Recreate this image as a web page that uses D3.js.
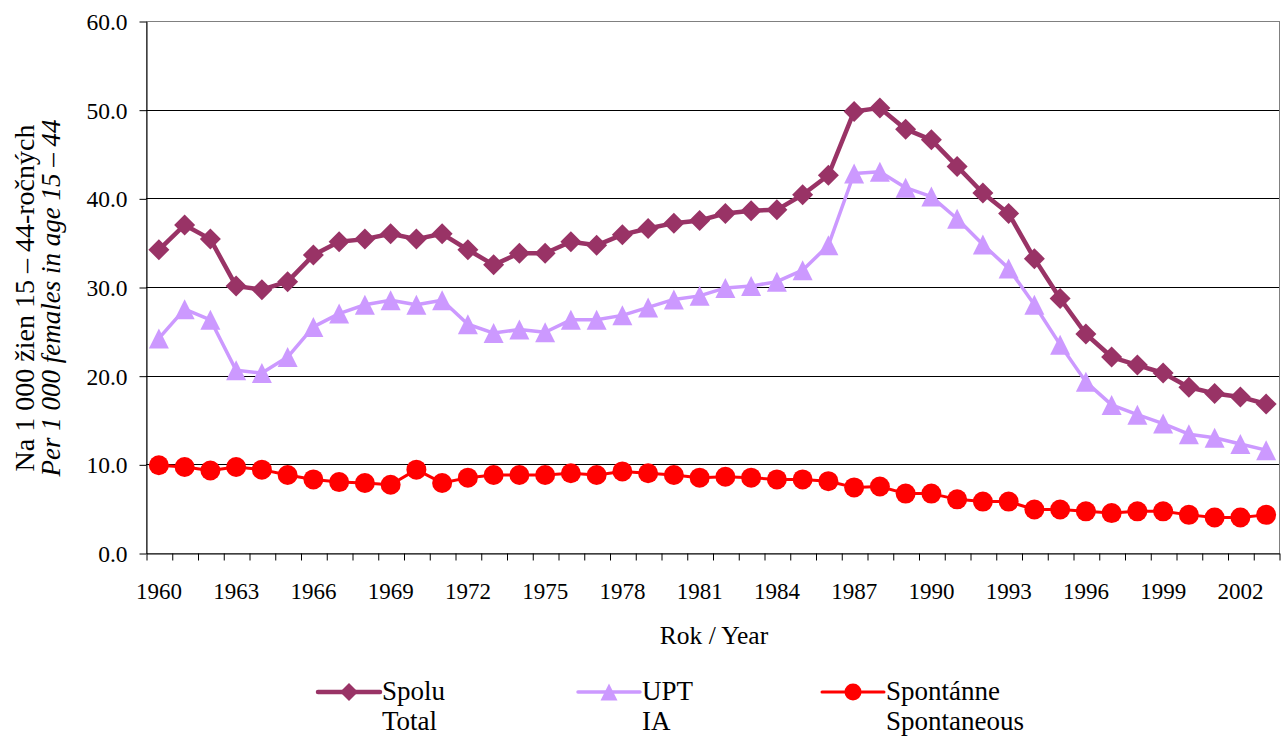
<!DOCTYPE html>
<html>
<head>
<meta charset="utf-8">
<script src="https://cdn.jsdelivr.net/npm/d3@7"></script>
<style>
  body { margin: 0; background: #fff; }
  svg text { font-family: "Liberation Serif", "Times New Roman", Times, "Nimbus Roman", "DejaVu Serif", serif; fill: #000; }
</style>
</head>
<body>
<svg id="chart" width="1281" height="738"></svg>
<script>
//
// Data
//

var years = d3.range(1960, 2004)
var total = [34.2, 37.0, 35.4, 30.1, 29.7, 30.6, 33.6, 35.1, 35.4, 36.0,
  35.4, 36.0, 34.2, 32.5, 33.8, 33.8, 35.1, 34.7, 35.9, 36.6,
  37.2, 37.5, 38.3, 38.6, 38.7, 40.4, 42.6, 49.8, 50.2, 47.8,
  46.6, 43.6, 40.6, 38.3, 33.2, 28.7, 24.7, 22.1, 21.2, 20.3,
  18.7, 18.0, 17.6, 16.8]
var ia = [24.2, 27.5, 26.3, 20.6, 20.3, 22.1, 25.5, 27.0, 28.0, 28.5,
  28.0, 28.5, 25.8, 24.8, 25.2, 24.9, 26.3, 26.3, 26.8, 27.7,
  28.6, 29.0, 29.9, 30.1, 30.6, 31.9, 34.7, 42.8, 43.0, 41.2,
  40.2, 37.7, 34.8, 32.1, 28.0, 23.5, 19.3, 16.7, 15.6, 14.6,
  13.4, 13.0, 12.3, 11.6]
var spont = [9.9, 9.7, 9.3, 9.7, 9.4, 8.8, 8.3, 8.0, 7.9, 7.7,
  9.4, 7.9, 8.5, 8.8, 8.8, 8.8, 9.0, 8.8, 9.2, 9.0,
  8.8, 8.5, 8.6, 8.5, 8.3, 8.3, 8.1, 7.4, 7.5, 6.7,
  6.7, 6.05, 5.8, 5.8, 4.9, 4.9, 4.7, 4.5, 4.7, 4.7,
  4.3, 4.0, 4.0, 4.3]
var yTicks = [0, 10, 20, 30, 40, 50, 60]
var xLabelYears = years.filter(function(y) { return (y - 1960) % 3 === 0 })
var seriesNames = [['Spolu', 'Total'], ['UPT', 'IA'], ['Spontánne', 'Spontaneous']]

//
// Configuration
//

var plotLeft = 146, plotRight = 1279, plotTop = 21, plotBottom = 553
var colorTotal = '#993366'
var colorIA = '#cc99ff'
var colorSpont = '#ff0000'

//
// Scales
//

var svg = d3.select('#chart')
var x = d3.scaleBand().domain(years).range([plotLeft, plotRight]).paddingInner(0).paddingOuter(0)
var xEdge = d3.scaleLinear().domain([0, years.length]).range([plotLeft, plotRight])
var y = d3.scaleLinear().domain([0, 60]).range([plotBottom, plotTop])
function cx(yr) { return x(yr) + x.bandwidth() / 2 }

//
// Markers (centered on the bounding box, like the spreadsheet ones)
//

function diamond(r) {
  return 'M0,' + (-r) + 'L' + r + ',0L0,' + r + 'L' + (-r) + ',0Z'
}
function triangle(r) {
  return 'M0,' + (-r) + 'L' + r + ',' + r + 'L' + (-r) + ',' + r + 'Z'
}

//
// Grid and frame
//

svg.append('rect')
  .attr('x', plotLeft + 0.5).attr('y', plotTop + 0.5)
  .attr('width', plotRight - plotLeft).attr('height', plotBottom - plotTop)
  .attr('fill', 'none').attr('stroke', '#808080')

svg.append('g').selectAll('line')
  .data(yTicks.filter(function(t) { return t > 0 && t < 60 }))
  .join('line')
  .attr('x1', plotLeft).attr('x2', plotRight)
  .attr('y1', function(d) { return Math.round(y(d)) + 0.5 })
  .attr('y2', function(d) { return Math.round(y(d)) + 0.5 })
  .attr('stroke', '#000').attr('stroke-width', 1)

// y axis
var yAxis = svg.append('g')
  .attr('transform', 'translate(' + (plotLeft + 0.5) + ',0.5)')
  .call(d3.axisLeft(y).tickValues(yTicks).tickSize(7).tickSizeOuter(0).tickPadding(12)
    .tickFormat(d3.format('.1f')))
yAxis.attr('font-family', null)
yAxis.select('.domain').attr('stroke', '#000')
yAxis.selectAll('.tick line').attr('stroke', '#000')
yAxis.selectAll('text').attr('font-size', 23.5).attr('dy', '0.34em')

// x axis: ticks on the category edges, labels every third year
var xTickAxis = svg.append('g')
  .attr('transform', 'translate(0.5,' + (plotBottom + 0.5) + ')')
  .call(d3.axisBottom(xEdge).tickValues(d3.range(0, years.length + 1)).tickSize(7)
    .tickSizeOuter(0).tickFormat(''))
xTickAxis.select('.domain').attr('stroke', '#000')
xTickAxis.selectAll('.tick line').attr('stroke', '#000')

var xLabelAxis = svg.append('g')
  .attr('transform', 'translate(0,' + plotBottom + ')')
  .call(d3.axisBottom(x).tickValues(xLabelYears).tickSize(0).tickPadding(30))
xLabelAxis.attr('font-family', null)
xLabelAxis.select('.domain').remove()
xLabelAxis.selectAll('text').attr('font-size', 23)

// axis titles
svg.append('text')
  .attr('x', 714).attr('y', 644)
  .attr('text-anchor', 'middle').attr('font-size', 25.5)
  .text('Rok / Year')

var yTitle = svg.append('g').attr('transform', 'translate(34,298) rotate(-90)')
yTitle.append('text')
  .attr('text-anchor', 'middle').attr('font-size', 28)
  .text('Na 1 000 žien 15 – 44-ročných')
yTitle.append('text')
  .attr('y', 26).attr('text-anchor', 'middle').attr('font-size', 27)
  .attr('font-style', 'italic')
  .text('Per 1 000 females in age 15 – 44')

//
// Series
//

var line = d3.line()
  .x(function(d, i) { return cx(years[i]) })
  .y(function(d) { return y(d) })

function drawSeries(values, color, width, marker) {
  var g = svg.append('g')
  g.append('path')
    .datum(values)
    .attr('d', line)
    .attr('fill', 'none')
    .attr('stroke', color)
    .attr('stroke-width', width)
    .attr('stroke-linejoin', 'round')
  if (marker === 'circle') {
    g.selectAll('circle').data(values).join('circle')
      .attr('cx', function(d, i) { return cx(years[i]) })
      .attr('cy', function(d) { return y(d) })
      .attr('r', 10)
      .attr('fill', color)
  } else {
    g.selectAll('path.m').data(values).join('path')
      .attr('class', 'm')
      .attr('transform', function(d, i) { return 'translate(' + cx(years[i]) + ',' + y(d) + ')' })
      .attr('d', marker === 'diamond' ? diamond(10.5) : triangle(10))
      .attr('fill', color)
  }
}

drawSeries(spont, colorSpont, 3, 'circle')
drawSeries(ia, colorIA, 3.5, 'triangle')
drawSeries(total, colorTotal, 4.5, 'diamond')

//
// Legend
//

var legendItems = [
  { x: 318, color: colorTotal, width: 4.5, marker: 'diamond', names: seriesNames[0] },
  { x: 578, color: colorIA, width: 3.5, marker: 'triangle', names: seriesNames[1] },
  { x: 822, color: colorSpont, width: 3, marker: 'circle', names: seriesNames[2] }
]
var legend = svg.append('g').selectAll('g').data(legendItems).join('g')
  .attr('transform', function(d) { return 'translate(' + d.x + ',692)' })
legend.append('line')
  .attr('x1', 0).attr('x2', 62)
  .attr('stroke', function(d) { return d.color })
  .attr('stroke-width', function(d) { return d.width })
  .attr('stroke-linecap', 'round')
legend.each(function(d) {
  var g = d3.select(this)
  if (d.marker === 'circle') {
    g.append('circle').attr('cx', 31).attr('r', 8.5).attr('fill', d.color)
  } else {
    g.append('path')
      .attr('transform', 'translate(31,0)')
      .attr('d', d.marker === 'diamond' ? diamond(9) : triangle(8.5))
      .attr('fill', d.color)
  }
})
legend.append('text')
  .attr('x', 64).attr('y', 8).attr('font-size', 27)
  .text(function(d) { return d.names[0] })
legend.append('text')
  .attr('x', 64).attr('y', 38).attr('font-size', 27)
  .text(function(d) { return d.names[1] })
</script>
</body>
</html>
